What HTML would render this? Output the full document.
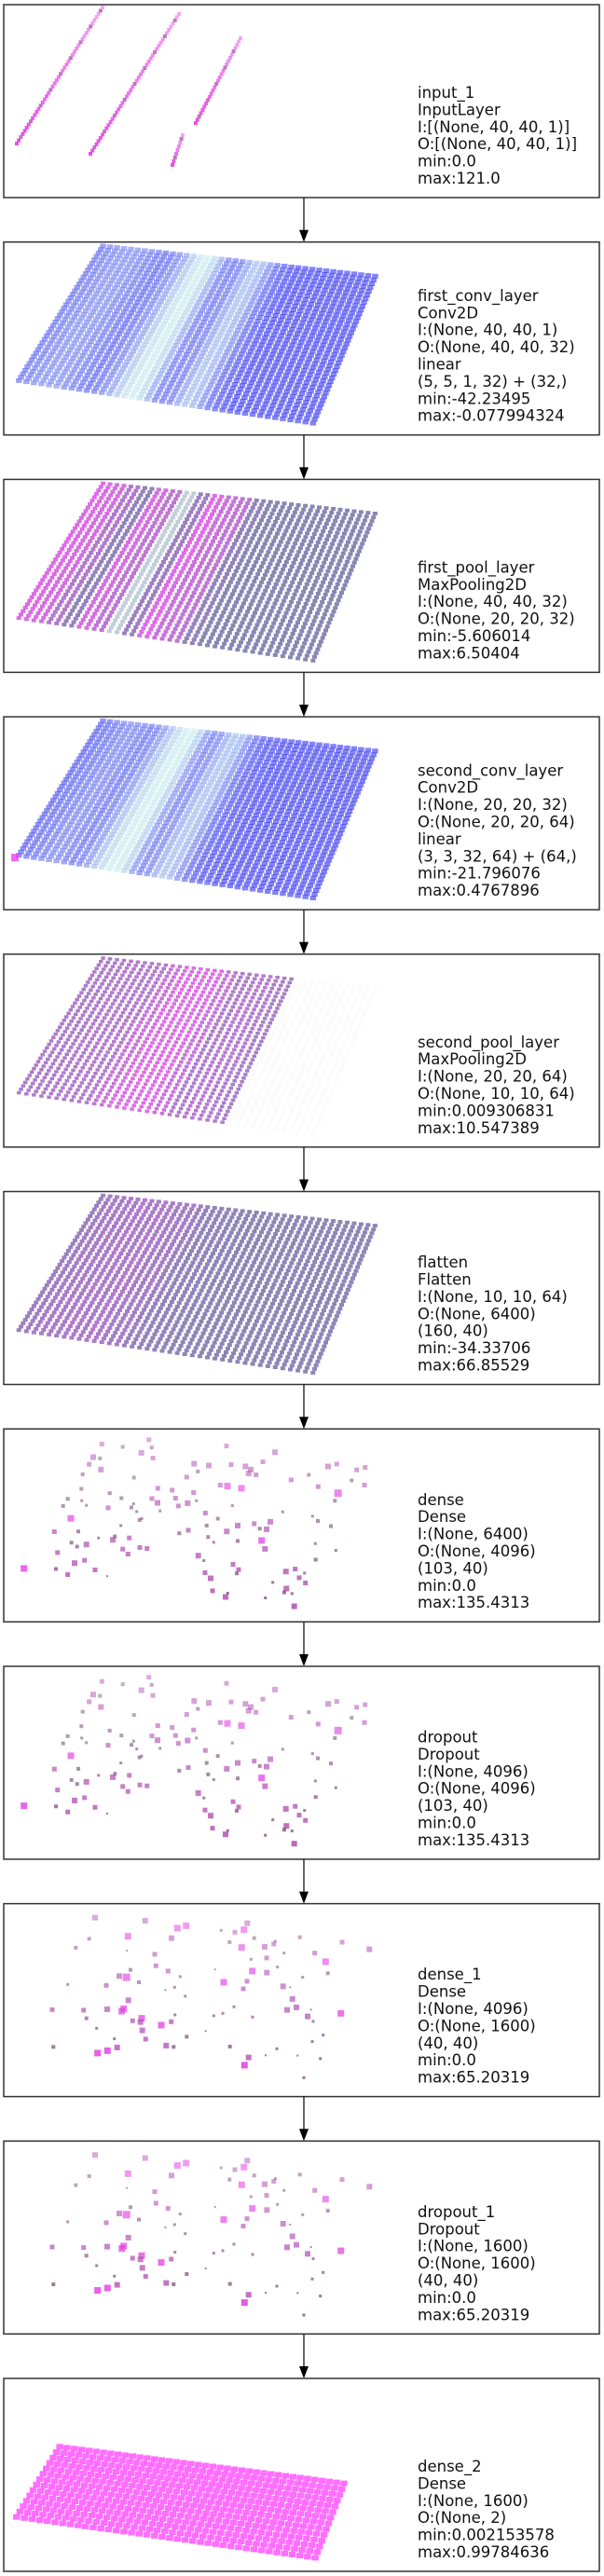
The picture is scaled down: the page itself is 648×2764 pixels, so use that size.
<!DOCTYPE html>
<html><head><meta charset="utf-8"><style>
html,body{margin:0;padding:0;background:#fff;}
svg{display:block;}
text{font-family:"DejaVu Sans","Liberation Sans",sans-serif;font-size:16.5px;fill:#111;}
</style></head><body>
<svg id="chart" width="648" height="2764" viewBox="0 0 648 2764"></svg>
<script>
const layerNames=["input_1","first_conv_layer","first_pool_layer","second_conv_layer","second_pool_layer","flatten","dense","dropout","dense_1","dropout_1","dense_2"];
const layerInfo=[
["input_1","InputLayer","I:[(None, 40, 40, 1)]","O:[(None, 40, 40, 1)]","min:0.0","max:121.0"],
["first_conv_layer","Conv2D","I:(None, 40, 40, 1)","O:(None, 40, 40, 32)","linear","(5, 5, 1, 32) + (32,)","min:-42.23495","max:-0.077994324"],
["first_pool_layer","MaxPooling2D","I:(None, 40, 40, 32)","O:(None, 20, 20, 32)","min:-5.606014","max:6.50404"],
["second_conv_layer","Conv2D","I:(None, 20, 20, 32)","O:(None, 20, 20, 64)","linear","(3, 3, 32, 64) + (64,)","min:-21.796076","max:0.4767896"],
["second_pool_layer","MaxPooling2D","I:(None, 20, 20, 64)","O:(None, 10, 10, 64)","min:0.009306831","max:10.547389"],
["flatten","Flatten","I:(None, 10, 10, 64)","O:(None, 6400)","(160, 40)","min:-34.33706","max:66.85529"],
["dense","Dense","I:(None, 6400)","O:(None, 4096)","(103, 40)","min:0.0","max:135.4313"],
["dropout","Dropout","I:(None, 4096)","O:(None, 4096)","(103, 40)","min:0.0","max:135.4313"],
["dense_1","Dense","I:(None, 4096)","O:(None, 1600)","(40, 40)","min:0.0","max:65.20319"],
["dropout_1","Dropout","I:(None, 1600)","O:(None, 1600)","(40, 40)","min:0.0","max:65.20319"],
["dense_2","Dense","I:(None, 1600)","O:(None, 2)","min:0.002153578","max:0.99784636"]
];
const streakX1=[18,97,185,210];
const streakY1=[154,165,177,132];
const streakX2=[110,192,196,258];
const streakY2=[8,15,145,41];
const conv1Cols=[0.25,0.3,0.35,0.4,0.4,0.4,0.35,0.3,0.25,0.2,0.25,0.35,0.5,0.7,0.85,0.9,0.8,0.55,0.3,0.25,0.3,0.5,0.65,0.6,0.4,0.2,0.1,0.05,0,0,0,0,0,0,0,0,0,0,0,0];
const conv2Cols=[0.15,0.2,0.25,0.3,0.35,0.35,0.3,0.25,0.3,0.45,0.65,0.8,0.9,0.9,0.75,0.45,0.3,0.35,0.55,0.65,0.6,0.4,0.2,0.1,0.05,0.05,0,0,0,0,0,0,0,0,0,0,0,0,0,0];
const pool1Cols=[0.8,0.7,0.4,0.1,0.7,0.5,-0.6,0.2,0.8,0.6,0.5,0.1,0,0,0,0,0,0,0,0];
const pool2Cols=[0.35,0.35,0.4,0.4,0.4,0.6,0.75,0.8,0.8,0.6,0.35,0.45,0.4,0.3,-9,-9,-9,-9,-9,-9];
const flatCols=[0.2,0.25,0.3,0.3,0.35,0.3,0.4,0.35,0.3,0.4,0.35,0.3,0.25,0.3,0.2,0.15,0.1,0.1,0.1,0.1,0.05,0.05,0.05,0.05,0.05,0.05,0.05,0.05,0.05,0.05,0.05,0.05,0.05,0.05,0.05,0.05,0.05,0.05,0.05,0.05];
const denseX=[77,175,228,185,240,218,180,272,278,306,252,230,248,203,218,262,266,287,300,325,322,328,348,353,391,395,363,370,395,412,416,389,423,440,449,450,473,455,479,488,492,431,489,507,508,554,565,574,577,601,604,606,623,625,637,661,665,672,670,701,709,732,730,744,729,765,765,750,768,762,777,790,800,807,824,818,836,846,858,870,842,853,885,937,910,920,950,963,983,922,915,947,994,1024,1023,1006,1056,1084,1088,1078,1065,1132,1148,1173,1175,1016,638,660,678,684,726,733,656,854,345,317,263,278,456,430,515,632,748,688,1081,1015,878,980,940];
const denseY=[458,340,297,407,441,478,460,432,381,463,339,375,388,257,234,202,155,123,100,140,104,58,263,216,232,67,366,355,396,412,360,320,262,275,302,391,394,86,44,69,103,166,233,247,200,206,232,257,345,164,248,335,214,121,146,280,320,127,357,298,190,193,339,124,64,320,370,445,462,474,200,130,152,140,157,314,330,115,332,308,368,395,84,173,276,468,460,488,505,523,535,580,157,195,305,290,130,122,216,240,322,175,141,190,133,430,417,472,490,530,550,538,433,553,483,360,240,255,298,250,273,240,256,374,400,378,503,473,539];
const denseS=[7,5,7,5,6,5,4,5,6,5,4,4,4,4,4,4,4,5,6,6,4,5,5,4,4,4,6,4,5,5,5,3,4,3,4,5,5,6,5,4,5,4,5,6,5,5,5,5,4,5,6,5,5,6,4,5,4,6,4,4,5,7,6,5,5,6,4,5,5,4,7,6,6,6,5,5,4,5,6,6,7,6,6,5,3,6,5,5,5,6,4,6,4,5,4,3,6,5,8,4,4,4,5,5,5,4,6,5,6,5,6,3,3,3,2,3,3,3,3,3,3,3,3,3,3,3,3,3,3];
const d1X=[306,467,571,599,552,412,287,244,408,498,502,541,420,384,407,447,342,218,580,562,596,532,413,398,392,345,269,168,278,456,427,452,458,469,519,551,563,311,368,172,314,346,377,535,559,601,662,712,756,785,796,739,778,818,852,881,886,858,808,812,859,893,914,965,1013,1048,1055,1101,1189,974,911,934,941,924,954,990,1001,1008,1097,1040,1005,958,1031,978,891,855,813,753,717,688,740,800,787,795,783,720,692];
const d1Y=[54,64,88,80,120,114,122,151,160,172,209,226,222,242,246,262,272,269,244,278,307,287,320,347,355,349,352,350,378,378,386,390,417,445,400,389,367,410,444,470,490,482,472,466,470,437,419,95,101,93,72,133,150,120,148,139,130,184,188,226,231,213,168,117,168,196,233,133,156,246,275,278,316,351,343,372,350,388,362,432,453,498,508,569,476,497,374,341,362,370,469,504,529,259,283,262,221];
const d1S=[6,6,7,7,6,7,4,4,2,5,5,5,4,6,8,4,5,3,3,3,3,2,6,7,7,6,5,5,4,7,5,6,6,5,7,5,3,3,3,4,7,7,6,6,4,4,2,3,5,7,6,4,7,4,6,5,3,5,3,7,6,3,3,4,5,7,4,5,6,3,6,2,6,6,6,6,2,3,7,3,3,2,3,3,3,2,3,3,3,3,4,6,7,5,5,7,2];

const NS="http://www.w3.org/2000/svg";
const svg=document.getElementById('chart');
const BOX_X=4,BOX_W=639,BOX_H=207,PITCH=254.7,ARROW_X=326,TEXT_X=448;
function boxTop(i){return 5+i*PITCH;}
function mk(tag,attrs,parent){const e=document.createElementNS(NS,tag);for(const k in attrs)e.setAttribute(k,attrs[k]);(parent||svg).appendChild(e);return e;}
function lerp(a,b,t){return a+(b-a)*t;}
function mix(c1,c2,t){return 'rgb('+Math.round(lerp(c1[0],c2[0],t))+','+Math.round(lerp(c1[1],c2[1],t))+','+Math.round(lerp(c1[2],c2[2],t))+')';}
const GRID_TL=[108,2],GRID_TR=[407,35],GRID_BR=[339,197],GRID_BL=[15,150];
function gridPt(top,u,v,TL,TR,BR,BL){
  const x=(1-v)*((1-u)*TL[0]+u*TR[0])+v*((1-u)*BL[0]+u*BR[0]);
  const y=(1-v)*((1-u)*TL[1]+u*TR[1])+v*((1-u)*BL[1]+u*BR[1]);
  return [x,top+y];
}
function cmapConv(t){return {fill:mix([50,50,240],[215,255,235],Math.max(0,Math.min(1,t))),op:0.6};}
function cmapPool(t){
  if(t<-5)return {fill:'rgb(200,200,220)',op:0.08};
  if(t<0)return {fill:mix([95,95,155],[225,255,240],-t),op:0.75};
  return {fill:mix([95,95,155],[240,50,240],t),op:0.75};
}
function drawGrid(g,top,cols,nCols,nRows,cmap,cw,ch,corners){
  const [TL,TR,BR,BL]=corners||[GRID_TL,GRID_TR,GRID_BR,GRID_BL];
  for(let r=0;r<nRows;r++){
    for(let c=0;c<nCols;c++){
      const u=(c+0.5)/nCols,v=(r+0.5)/nRows;
      const p=gridPt(top,u,v,TL,TR,BR,BL);
      const val=cols?cols[Math.min(cols.length-1,Math.floor(u*cols.length))]:1;
      const cm=cmap(val);
      const rc=mk('rect',{x:(p[0]-cw/2).toFixed(1),y:(p[1]-ch/2).toFixed(1),width:cw,height:ch,fill:cm.fill,'fill-opacity':cm.op},g);
      
      
    }
  }
}
function drawPoints(g,top,xs,ys,ss){
  for(let i=0;i<xs.length;i++){
    const x=xs[i]/3,y=top+ys[i]/3-3,s=ss[i];
    const fill=s>=7?'#e23ee2':(s>=5?'#b455b4':'#8a5a8a');
    const op=0.45+0.45*(ys[i]/600);
    const rc=mk('rect',{x:(x-s/2).toFixed(1),y:(y-s/2).toFixed(1),width:s,height:s,fill:fill,'fill-opacity':op.toFixed(2)},g);
    
    
  }
}
for(let i=0;i<layerNames.length;i++){
  const top=boxTop(i);
  const g=mk('g',{});
  
  
  const vis=mk('g',{},g);
  
  
  if(i===0){
    for(let k=0;k<streakX1.length;k++){
      const n=Math.round(Math.hypot(streakX2[k]-streakX1[k],streakY2[k]-streakY1[k])/4);
      for(let j=0;j<=n;j++){
        const t=j/n,x=lerp(streakX1[k],streakX2[k],t),y=top-5+lerp(streakY1[k],streakY2[k],t);
        const rc=mk('rect',{x:(x-2).toFixed(1),y:(y-2).toFixed(1),width:4,height:4,fill:j%5===2?'#a050a0':mix([225,20,225],[240,140,240],t),'fill-opacity':0.75},vis);
        
        
      }
    }
  } else if(i===1){drawGrid(vis,top,conv1Cols,40,40,cmapConv,6.5,5);}
  else if(i===2){drawGrid(vis,top,pool1Cols,40,40,cmapPool,5,4);}
  else if(i===3){drawGrid(vis,top,conv2Cols,40,40,cmapConv,6.5,5);
    const c=mk('rect',{x:12,y:top+147,width:8,height:8,fill:'#f040f0','fill-opacity':0.8},vis);
    }
  else if(i===4){drawGrid(vis,top,pool2Cols,40,40,cmapPool,4.5,3.5);}
  else if(i===5){drawGrid(vis,top,flatCols,40,40,cmapPool,5,4);}
  else if(i===6||i===7){drawPoints(vis,top,denseX,denseY,denseS);}
  else if(i===8||i===9){drawPoints(vis,top,d1X,d1Y,d1S);}
  else if(i===10){drawGrid(vis,top,null,40,14,function(){return {fill:'#ff30ff',op:0.7};},7.5,6,[[62,70],[374,110],[341,196],[12,151]]);}
  const box=mk('rect',{x:BOX_X,y:top,width:BOX_W,height:BOX_H,fill:'none',stroke:'#333','stroke-width':1.5},g);
  
  
  const lines=layerInfo[i];
  const tx=mk('text',{x:TEXT_X,y:0},g);
  
  
  for(let j=0;j<lines.length;j++){
    const ts=mk('tspan',{x:TEXT_X,y:(top+192-(lines.length-1-j)*18.4).toFixed(1)},tx);
    ts.textContent=lines[j];
  }
  if(i<layerNames.length-1){
    const y1=top+BOX_H,y2=boxTop(i+1);
    const ln=mk('line',{x1:ARROW_X,y1:y1,x2:ARROW_X,y2:y2-12,stroke:'#000','stroke-width':1.2});
    
    
    const hd=mk('polygon',{points:(ARROW_X-5)+','+(y2-13)+' '+(ARROW_X+5)+','+(y2-13)+' '+ARROW_X+','+y2,fill:'#000'});
    
    
  }
}
</script>
</body></html>
